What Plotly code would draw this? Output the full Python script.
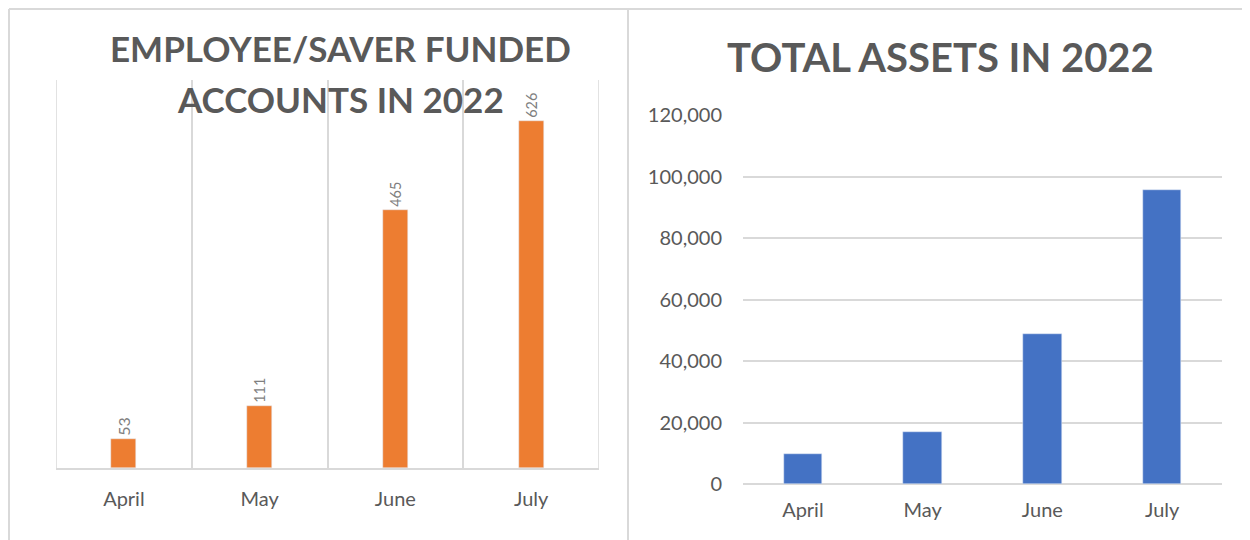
import plotly.graph_objects as go

months = ["April", "May", "June", "July"]
accounts = [53, 111, 465, 626]
assets = [9700, 16900, 48700, 95500]
title_left = ["EMPLOYEE/SAVER FUNDED", "ACCOUNTS IN 2022"]
title_right = "TOTAL ASSETS IN 2022"

W, H = 1250, 540
OFF = 8  # page body margin offset
def px(x): return (x - OFF) / W
def py(y): return 1 - (y - OFF) / H

ORANGE = "#ED7D31"
BLUE = "#4472C4"
GRID = "#D9D9D9"
TXT = "#595959"
FONT = "Lato"

fig = go.Figure()

fig.add_trace(go.Bar(
    x=months, y=accounts, marker_color=ORANGE, width=0.185,
    text=[str(v) for v in accounts], textposition="outside", textangle=-90,
    textfont=dict(family=FONT, size=16, color="#7F7F7F"),
    cliponaxis=False, xaxis="x", yaxis="y", showlegend=False,
))
fig.add_trace(go.Bar(
    x=months, y=assets, marker_color=BLUE, width=0.32,
    xaxis="x2", yaxis="y2", showlegend=False,
))

fig.update_layout(
    width=W, height=H, margin=dict(l=0, r=0, t=0, b=0, autoexpand=False),
    showlegend=False,
    paper_bgcolor="white", plot_bgcolor="white",
    font=dict(family=FONT, color=TXT),
    xaxis=dict(domain=[px(56), px(599)], anchor="y", type="category",
               tickson="boundaries", showgrid=True, gridcolor=GRID, gridwidth=1.5,
               showline=True, linecolor=GRID, linewidth=2, ticks="",
               ticklabelstandoff=12, automargin=False,
               tickfont=dict(size=20, color=TXT), range=[-0.5, 3.5]),
    yaxis=dict(domain=[py(468), py(80)], anchor="x", range=[0, 700],
               visible=False, showgrid=False, zeroline=False, automargin=False),
    xaxis2=dict(domain=[px(743), px(1222)], anchor="y2", type="category",
                showgrid=False, showline=False, ticks="", ticklabelstandoff=12,
                automargin=False,
                tickfont=dict(size=20, color=TXT), range=[-0.5, 3.5]),
    yaxis2=dict(domain=[py(484), py(115)], anchor="x2", range=[0, 120000],
                dtick=20000, tickformat=",", showgrid=True, gridcolor=GRID, gridwidth=1.5,
                zeroline=True, zerolinecolor=GRID, zerolinewidth=2,
                ticks="", ticklabelstandoff=20, automargin=False,
                tickfont=dict(size=20, color=TXT)),
    bargap=0,
)

# outer category boundary lines on the left chart
for xb in [-0.5, 3.5]:
    fig.add_shape(type="line", xref="x", yref="y domain", x0=xb, x1=xb, y0=0, y1=1,
                  line=dict(color=GRID, width=1.5), layer="below")

for txt, yc in zip(title_left, [48, 99]):
    fig.add_annotation(text=f"<b>{txt}</b>",
                       x=px(340), y=py(yc), xref="paper", yref="paper",
                       xanchor="center", yanchor="middle", showarrow=False,
                       font=dict(family=FONT, size=35, color=TXT))
fig.add_annotation(text=f"<b>{title_right}</b>",
                   x=px(940), y=py(57), xref="paper", yref="paper",
                   xanchor="center", yanchor="middle", showarrow=False,
                   font=dict(family=FONT, size=40, color=TXT))

# chart borders
line = dict(color=GRID, width=2)
fig.add_shape(type="line", xref="paper", yref="paper", x0=px(9), x1=1, y0=py(9), y1=py(9), line=line)
fig.add_shape(type="line", xref="paper", yref="paper", x0=px(9), x1=px(9), y0=py(9), y1=0, line=line)
fig.add_shape(type="line", xref="paper", yref="paper", x0=px(628), x1=px(628), y0=py(9), y1=0, line=line)

fig.write_html("out.html")
